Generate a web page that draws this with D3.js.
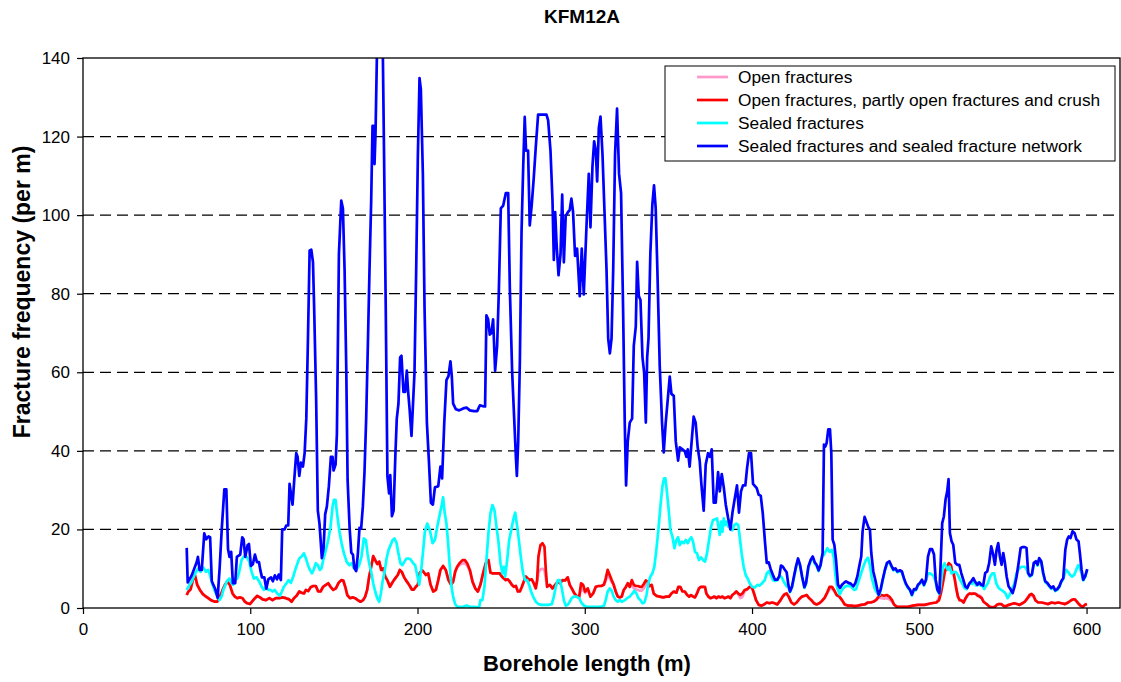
<!DOCTYPE html>
<html>
<head>
<meta charset="utf-8">
<script src="https://cdn.jsdelivr.net/npm/d3@7"></script>
<style>
  body { margin: 0; background: #fff; }
  svg { display: block; font-family: "Liberation Sans", Arial, sans-serif; }
</style>
</head>
<body>
<svg id="chart" width="1121" height="682"></svg>
<script>
// borehole length (m), fracture frequency (per m)
const sealedNetwork = [
  [62,15.3],[62.6,6.5],[65,8.3],[68,11.7],[68.7,13],[69.7,9.7],[71,9.7],[72.5,19],[73.7,17.5],[75,18.2],[76,18],[77,6.8],[79,4.9],[80.5,2.6],[81.7,10.2],[83,20.4],[84.5,30.2],[85.7,30.2],[86.7,15],[87.6,13],[88.6,14.3],[89.6,6.3],[91,6.3],[92,13],[94,13.6],[95.2,18],[96,17.5],[97,13],[98.4,16],[99.2,16.3],[100.4,10.7],[101.6,11.2],[102.8,13.6],[104,11.7],[105.2,11.7],[106,9.7],[107,7.8],[108.4,7.8],[109.6,4.9],[110.8,7.3],[112.4,7.8],[113.5,6.8],[114.7,8.3],[116,7.3],[117,8.5],[118.3,7.1],[119.1,20],[120.5,20],[121.5,21],[122.7,21],[123.5,31.6],[124.3,29.2],[125.3,26.3],[126.3,32.6],[127.5,39.4],[128.3,38.5],[129.3,33.6],[130.3,37],[131.5,36],[132.5,39.4],[133.5,48.2],[134.5,68.6],[135.5,91],[136.5,91.2],[137.5,88],[138.2,76.4],[139.4,53],[140.4,24.8],[141.4,21.4],[142.8,12.7],[143.8,15],[144.8,23.9],[145.8,25.8],[147,31],[148.2,38.5],[149.2,38.5],[149.8,35],[151,36.5],[151.8,44.3],[153,90],[154.4,103.7],[155.4,101.7],[156.4,86],[157.4,60.9],[158.2,32.6],[159.4,20.4],[160.4,14.1],[161.4,13.6],[162.2,10.2],[163.3,9.4],[164.3,13.6],[165.3,20.4],[166.3,20.2],[167.3,25.8],[168.3,34.6],[169.3,48.2],[170.3,66.7],[171.3,86.2],[172.3,103.7],[173.1,122.7],[173.7,122.7],[174.3,113],[174.9,121],[175.7,140],[176.5,152],[178.5,152],[179.3,140],[180,115],[181,76.4],[182,33.6],[183,29.2],[183.7,33.8],[184.7,23.4],[185.7,24.8],[186.8,39.4],[187.6,48.2],[188.6,52],[189.6,63.8],[190.4,64.2],[191.6,55],[192.6,55],[193.6,60.4],[194.4,55],[195.2,51],[196.4,43.8],[197.2,51],[198.2,60],[199.2,86],[200.2,115],[201.2,134.9],[202,132],[203.2,110.5],[204.2,76.4],[205.6,47.2],[206.8,37.5],[208,26.8],[209.2,26.3],[210.4,30.7],[212.4,31],[213.7,36],[214.7,33],[216,47.2],[217.3,58],[218.5,59],[219.7,62.8],[220.5,59],[221.3,52],[222.9,50.6],[224.9,50.3],[227.3,50.8],[229.3,51],[231.3,50.3],[233.7,50.1],[235.7,50.1],[237.3,51.6],[238.8,51.4],[240.4,51.3],[241.2,74.5],[242.2,73.5],[243.2,69.6],[244.2,70],[245.2,73.5],[246.4,60.4],[247.6,66.7],[248.6,80.3],[249.8,101.7],[251.2,102.4],[252.8,105.6],[254.2,105.6],[255.2,81.3],[256.6,59.9],[257.8,48.2],[258.8,38.5],[259.4,33.6],[260.2,42.4],[261.2,62.8],[262.2,95.9],[263.2,112.5],[264.1,125],[264.9,116.4],[266.1,116.4],[267.1,97.4],[268.3,102.7],[269.5,109.5],[270.7,117.3],[272.1,125.6],[274.1,125.6],[277.1,125.6],[278.1,124.1],[279.5,116.4],[280.7,103.7],[281.5,88.6],[282.3,100.8],[283.1,93],[284.3,84.7],[285.5,90],[286.5,105.2],[287.5,88],[288.6,99.8],[290,100.8],[291,101.3],[292,104.2],[293,100.8],[294.2,89.6],[295.4,91.5],[297,79.4],[298.2,91.5],[299.4,79.8],[301,96.9],[302.4,110.5],[303.4,96.9],[304.6,112.5],[305.6,118.8],[306.6,116.4],[307.4,108.6],[308.4,122.2],[309.4,125.1],[310.6,115.4],[311.8,100.8],[313,86.2],[314,68.6],[315,64.8],[316,68.6],[317,86.2],[318.1,115.4],[319.3,127.1],[320.5,110.5],[321.7,105.6],[322.9,76.4],[323.9,47.2],[324.7,31.2],[325.7,42.4],[326.9,47.2],[328.3,48.2],[329.3,66.7],[330.5,71.6],[331.3,88.1],[332.3,79.4],[333.3,78.4],[334.5,63.8],[335.5,59.9],[336.5,47.2],[337.3,63.8],[338.1,68.6],[339.2,90.1],[340.4,102.7],[341.4,107.6],[342.4,101.8],[343.4,86.2],[344.8,61.8],[346.2,47.2],[347.2,39.6],[348.4,47.2],[349.8,54],[350.8,58.9],[351.8,54.5],[353.2,54],[354.4,42.4],[355.8,37.5],[356.8,40.9],[358.4,40.4],[359.8,39.9],[360.8,38.5],[361.6,40.4],[362.7,36],[363.9,42.4],[365.1,48.7],[366.3,47.2],[367.5,40.9],[368.7,37.5],[369.7,31.6],[371.1,24.8],[372.3,36.5],[373.7,39.4],[374.7,38.5],[375.9,40.4],[377.1,26.8],[378.3,26.8],[379.7,34.6],[380.7,29.7],[381.9,34.1],[383.1,30.7],[384.3,26.3],[385.7,22.9],[387.1,20],[388.3,24.3],[389.6,27.7],[391,31.2],[392.2,24.3],[393.4,29.7],[394.6,31.2],[396,31.2],[397,35.5],[398.2,39.4],[399.4,39.4],[400.6,31.6],[402.8,30.5],[404,28.8],[405.2,28.6],[406.4,24.2],[407.8,16.5],[408.8,11.5],[410,11.6],[411.2,9.8],[412.4,8.5],[413.7,7.2],[415.1,7.2],[416.3,8.1],[417.3,10.8],[418.3,10.6],[419.5,9.8],[420.7,9.1],[421.7,5.9],[422.7,4.2],[423.9,5.5],[425.1,8.1],[426.3,10.6],[427.5,12.6],[428.7,11],[429.9,8.1],[431.3,5.3],[432.3,6.4],[433.7,10.6],[435.1,12.3],[436.3,13.1],[437.5,11.6],[438.6,11],[439.8,9.6],[441,11],[442.2,14],[443,41.6],[443.8,41.1],[444.6,42],[445.6,45.5],[446.6,45.5],[447.4,39.4],[448.2,17.4],[449.2,16.1],[450.2,12.3],[451.4,5.9],[452.6,5.1],[453.8,5.9],[455,6.4],[456.2,6.8],[457.6,6.4],[459,6.2],[460.6,5.5],[461.8,6.4],[463,8.1],[464.1,10.6],[465.3,13.1],[466.1,19.5],[467.3,23.2],[468.5,21.8],[469.7,20.4],[470.5,19.9],[471.3,14],[472.5,9.3],[473.7,7.2],[474.9,4.7],[475.7,3.4],[476.9,4.7],[478.1,7.2],[479.5,9.8],[480.7,11.5],[482.1,11.9],[483.5,10.6],[484.5,9.8],[485.7,10.1],[486.9,9.3],[488.4,9.6],[489.6,9.3],[490.8,7.6],[492,6.2],[493.2,5.3],[494.4,4.7],[495.6,3.4],[496.8,4.8],[498,4.7],[499.2,5.9],[500.4,6.4],[501.6,7.2],[502.8,5.9],[504,7.2],[505.2,13.1],[506.4,15],[507.6,15],[508.8,13.6],[509.8,7.2],[510.8,4.7],[512,3.8],[512.7,10.6],[513.7,21.6],[514.7,23.3],[515.7,27.6],[516.7,29.7],[517.5,32.8],[518.3,19.1],[519.3,17],[520.3,16.1],[521.5,11.5],[522.7,11],[523.9,11],[525.1,8.9],[526.3,7.2],[527.5,5.5],[528.7,5.1],[529.9,6.2],[531.1,6.8],[532.3,7.6],[533.5,6.6],[534.7,5.9],[535.9,6.5],[537.1,5.9],[538.2,5.7],[539.4,8.9],[540.6,9.3],[541.8,11.5],[543,15.7],[544.2,13.6],[545.2,11],[546.2,14.8],[547.2,16.5],[548.2,13.1],[549.2,11],[550.2,14],[551.2,11.5],[552.2,8.1],[553.4,5.5],[554.6,4.7],[555.8,3.8],[557,5.5],[558.2,8.1],[559.4,11.5],[560.6,15.3],[561.8,15.5],[563.1,15.5],[564.1,15.3],[565.1,8.9],[566.1,8.2],[567.3,8.5],[568.5,11.5],[569.7,11.9],[570.7,11],[571.7,12.7],[572.9,11.9],[574.1,8.9],[575.3,6.8],[576.5,6.4],[577.7,5.7],[578.9,5.1],[580.1,5.5],[581.3,4.5],[582.5,4.8],[583.7,5.5],[584.9,6.8],[586.1,7.6],[587.3,14.8],[588.4,17.4],[589.4,18.2],[590.4,17.8],[591.6,19.5],[592.8,19.1],[594,17.4],[595.2,17],[596,14],[597,9.8],[598,7.2],[599.2,8.1],[600.4,9.9]
];

const sealedFractures = [
  [62,4.6],[63,5.4],[65,6.7],[67,8.8],[69,10.1],[70.3,9.2],[71.9,10.3],[73.5,9.2],[74.9,9.7],[75.9,8.4],[77.5,5.9],[78.9,4.2],[80.3,3.1],[81.5,2],[82.9,2.9],[83.9,4.6],[85.9,6.7],[87.5,7.5],[88.8,6.3],[89.8,5.9],[90.8,7.5],[92.2,7.5],[93.4,9.2],[94.8,12.2],[96.2,13.1],[97.8,13.1],[99.4,11.8],[100.8,9.2],[102.2,7.5],[103.8,7.8],[105.4,6.7],[106.8,5.4],[108.2,4.6],[109.4,5.4],[110.8,4.6],[112.2,4.6],[113.3,4.2],[114.7,4.6],[116.1,3.7],[117.7,3.1],[118.9,4.2],[120.1,5.4],[121.7,6.3],[122.9,7.1],[124.3,6.4],[125.7,8],[126.9,9.7],[128.1,11.2],[129.3,12.6],[130.7,13.1],[132.1,13.9],[133.3,12.6],[134.5,10.9],[135.7,9.7],[136.9,8.8],[138,9.8],[139.2,11.4],[140.4,10.9],[141.6,9.7],[142.6,10.1],[143.6,12.2],[145.2,14.8],[146.6,17.3],[148,20.7],[149.2,25.8],[150,27.5],[151,27.5],[152,23.7],[153.2,19.8],[154.6,16.5],[156,13.9],[157.6,11.8],[159.2,10.9],[160.6,11.4],[162,10.1],[163.5,9.7],[165.1,10.9],[166.5,13.1],[167.9,17.7],[169.1,17.3],[170.1,13.9],[171.1,11.4],[172.5,8.8],[173.5,6.3],[174.7,4.2],[175.9,2.5],[177.1,1.6],[178.1,3.7],[179.1,6.7],[180.3,9.2],[181.5,12.6],[182.7,14.8],[183.9,16],[185.1,17.3],[186.3,17.7],[187.5,16.5],[188.6,13.9],[189.8,11.4],[191,10.9],[192.2,11.8],[193.4,12.6],[194.6,12.6],[195.8,12.4],[197.4,11.4],[198.6,10.9],[199.8,8.4],[201,5.9],[202.4,10.5],[203.2,13.9],[204.4,19.4],[205.8,21.5],[207.4,19.8],[209,16.5],[210.4,17.3],[211.8,20.7],[213,23.2],[214.3,25.8],[215.3,28.2],[216.3,24.1],[217.3,21.5],[218.3,16.5],[219.3,10.5],[220.3,5.4],[221.3,2.9],[222.5,1],[223.7,0.3],[225.3,0.3],[227.3,0.3],[229.3,0.6],[231.3,0.3],[233.3,0.3],[235.3,0.2],[236.9,0.3],[237.6,2],[238.8,2],[240,5.4],[241.2,12.2],[242.4,19],[243.6,24.1],[244.8,26.2],[246,24.9],[247.2,20.7],[248.4,16.9],[249.6,11.4],[250.8,8.8],[251.6,10.5],[252.4,8],[253.6,12.2],[254.8,17.3],[256,19.8],[257.2,22.4],[258.4,24.3],[259.6,20.7],[260.8,16.5],[262,12.2],[263.1,8.8],[264.3,7.1],[265.5,7.1],[266.7,5.9],[267.9,4.2],[269.1,2.9],[270.7,1.6],[272.3,1],[274.3,0.8],[276.3,0.8],[278.3,0.8],[280.3,1],[281.5,2.9],[282.7,5.4],[283.9,7.1],[285.1,7.1],[286.3,5],[287.5,2],[288.6,0.6],[289.8,0.8],[291,1.6],[292.2,2.5],[293.4,2.9],[295,2.9],[296.6,2.5],[298.2,1.2],[299.8,0.5],[301.4,0.3],[303.4,0.3],[305.4,0.3],[307.4,0.3],[309.4,0.3],[311.4,0.5],[312.5,2],[313.7,4.2],[314.9,5],[316.1,4.4],[317.3,2.9],[318.5,2],[319.7,1.6],[320.9,2],[322.1,1.6],[323.7,1.9],[325.3,2.5],[326.9,2.9],[328.5,3.7],[329.7,4.4],[330.9,3.7],[332.1,2.5],[333.3,2],[334.5,1.2],[335.7,1.4],[336.9,3.3],[338,6.3],[339.2,8],[340.4,8.8],[341.6,10.5],[342.8,14.8],[344,19.8],[345.2,25.8],[346.4,30.9],[347.4,33],[348.2,33],[348.8,30.9],[350,25.8],[351.2,19.8],[352.4,18.2],[353.6,15.2],[354.8,17.3],[355.8,18],[356.8,16],[358,16.9],[359.2,16.5],[360.4,17.3],[361.6,16.5],[362.7,17.5],[363.7,18],[364.7,16.9],[365.9,14.3],[367.1,13.9],[368.3,12.2],[369.5,12.9],[370.7,12.2],[371.9,11.8],[373.1,13.9],[374.3,17.3],[375.5,20.7],[376.7,22.4],[377.9,22.6],[379.1,22.8],[379.9,20.7],[380.7,18.6],[381.5,22],[382.3,19.4],[383.1,22.8],[383.9,21.1],[384.7,22],[385.9,20.7],[387.1,20.3],[388.2,19.8],[389.4,21.1],[390.6,21.5],[391.8,21.1],[392.6,18.2],[393.8,13.9],[395,10.5],[396.2,8.4],[397.4,7.5],[398.6,6.3],[400,5.4],[401.6,5.2],[403.2,5.9],[404.6,5.7],[406,6.3],[407.6,7.1],[408.8,8.8],[410,9.4],[411.2,8.4],[412.5,7.1],[413.9,6.9],[415.1,7.1],[416.3,8],[417.5,8],[419,6.7],[420.7,5.5],[421.7,5.5],[422.7,4],[423.9,5.2],[425.1,7.8],[426.3,10.3],[427.5,12.3],[428.7,10.8],[429.9,7.9],[431.3,5.1],[432.3,6.2],[433.7,10.3],[435.1,12],[436.3,12.8],[437.5,11.3],[438.6,10.7],[439.8,9.4],[441,10.8],[441.4,12.6],[443.4,13.9],[445,15.2],[446.4,14.3],[447.8,14.8],[449,12.6],[449.8,8.4],[451,5],[452.4,3.5],[453.8,4.6],[455.4,5.4],[457.4,5.7],[459.4,5.4],[461,4.6],[462.2,4.8],[463.3,6.3],[464.9,8.4],[466.5,10.5],[468.1,12.2],[469.3,12.8],[470.5,10.9],[471.7,7.5],[473.3,5],[474.9,3.7],[476.1,3.3],[476.9,4.5],[478.1,7],[479.5,9.6],[480.7,11.3],[482.1,11.7],[483.5,10.4],[484.5,9.6],[485.7,9.9],[486.9,9.1],[488.4,9.4],[489.6,9.1],[490.8,7.4],[492,6],[493.2,5.1],[494.4,4.5],[495.6,3.2],[496.8,4.6],[498,4.5],[499.2,5.7],[500.4,6.2],[501.6,7],[502.8,5.7],[504,7],[505.2,8.8],[506.4,8.8],[507.6,8.5],[508.8,8],[509.8,6.5],[510.8,4.5],[512,3.6],[512.9,6],[514.1,10.5],[515.1,11.4],[516.1,10.5],[517.1,9.7],[518.1,10.5],[519.3,8.8],[520.5,9.2],[521.7,9.2],[523.1,8.4],[524.5,7.1],[525.7,6.2],[526.9,5.2],[528.1,4.8],[529.3,5.7],[530.5,6.5],[531.7,6.1],[532.9,6.9],[534.1,5.7],[535.3,6.5],[536.5,5.7],[537.6,5.7],[538.8,4.8],[539.6,5.4],[541,6.3],[542.4,8],[543.6,8.8],[544.8,8.8],[546,6.3],[547.6,5],[549,4.6],[550.4,4.2],[551.6,3.7],[552.8,2.5],[554,3.3],[555.2,4.6],[556.8,6.1],[558,8.6],[559.2,9.8],[560.4,10.3],[561.6,10.5],[562.9,10.5],[563.9,10.1],[565.1,8.7],[566.1,8],[567.3,8.3],[568.5,11.3],[569.7,11.7],[570.7,10.8],[571.7,12.5],[572.9,11.7],[574.1,8.7],[575.3,6.6],[576.5,6.2],[577.7,5.5],[578.9,4.9],[580.1,5.3],[581.3,4.3],[582.5,4.6],[583.7,5.3],[584.9,6.6],[586.1,7.4],[587.8,9.7],[589,9.2],[590.2,8.4],[591.4,8],[592.6,8.4],[593.8,9.7],[595,10.9],[595.8,10.5],[597,8.8],[598,7],[599.2,7.9],[600.4,9.7]
];

const openPartlyCrush = [
  [62,3.3],[63,4.2],[64.3,4.7],[65.9,7.5],[66.9,8.4],[68.3,5.9],[69.9,4.6],[71.5,3.6],[72.9,3.1],[74.9,2.5],[76.9,1.9],[78.9,1.6],[80.3,1.6],[81.9,2.9],[83.5,4.6],[84.9,5.9],[86.3,6.7],[87.8,5.9],[89.4,3.7],[90.8,2.9],[92.2,2.5],[93.8,2.7],[95.4,2.5],[96.8,1.6],[98.2,1.2],[99.8,1],[101.4,1.8],[102.8,2.5],[104.2,3.1],[105.8,2.7],[107.4,2.2],[109.4,2],[111.4,2.5],[113.3,2],[115.3,2.5],[117.3,2.5],[119.3,2.7],[121.3,2.5],[123.3,2.2],[124.7,1.6],[126.1,2.5],[127.7,3.1],[129.3,4.2],[130.7,3.9],[132.1,3.7],[133.3,4.6],[134.7,4.3],[136.1,5.3],[137.6,5.6],[139.2,5.6],[140.6,4.2],[142,4.2],[143.6,5.4],[145.2,5.9],[146.6,6.3],[148,5.4],[149.6,4.6],[151.2,5],[152.8,6.4],[154.4,7.1],[155.6,7],[156.8,5.4],[158,3.3],[159.6,2.5],[161.2,2.7],[162.7,2.5],[164.3,2],[165.9,1.6],[167.5,2],[168.7,2.9],[169.9,4.6],[171.1,8],[172.3,10.5],[173.5,13.2],[174.7,12.2],[175.9,11.2],[177.1,11.8],[178.3,9.7],[179.5,10.1],[180.7,8],[181.9,7.1],[183.5,5.4],[184.7,6.3],[185.9,7.1],[187.1,7.8],[188.2,8.4],[189.4,9.7],[190.6,9.2],[191.8,8],[193,7.1],[194.2,6.4],[195.4,5.6],[196.6,4.7],[197.8,4.7],[199,5.4],[200.2,5.9],[201.4,9],[203,9.5],[205,8.4],[206.4,8.8],[207.8,5.9],[209.4,4.2],[211,4.6],[212.4,7.1],[213.7,9.7],[215.3,10.7],[216.9,9.7],[218.5,7.1],[220.1,5.9],[221.3,6.7],[222.5,9.2],[223.7,10.5],[225.3,11.5],[226.9,12.2],[228.3,12.2],[229.7,11.4],[231.3,9.7],[232.9,6.7],[234.5,5],[236.1,4.2],[237.6,5.9],[239.2,8.8],[240.8,11.4],[242.4,12.2],[243.6,9],[245.2,8.8],[247.2,8.8],[249.2,8.8],[250.4,8],[251.6,7.5],[252.8,7.1],[254,7.3],[255.2,6.7],[256.4,5.9],[257.6,5.4],[258.8,5.6],[260,4.2],[261.2,4.2],[262.4,5.4],[263.5,6.7],[264.7,8],[265.9,7.5],[267.1,7.1],[268.3,7.3],[269.5,6.3],[270.7,5],[271.5,7.1],[272.3,13.1],[273.5,16],[274.7,16.5],[275.9,15.6],[276.7,9.7],[277.5,5.4],[279.1,5.9],[280.7,5],[282.3,5.9],[283.9,6.7],[285.1,6.3],[286.7,7.1],[288.2,7],[289.8,7.8],[291,5.9],[292.2,5],[293.8,3.7],[295.4,2.9],[296.6,2.7],[297.8,6.3],[299,5.9],[300.2,4.2],[301.8,5],[303.4,2.9],[305,3.7],[306.6,5.4],[308.2,5.6],[309.8,5.6],[311.4,5.9],[312.5,7.5],[313.7,9.7],[314.9,8.4],[316.1,7.1],[317.3,5.9],[318.5,4.2],[319.7,2.9],[320.9,2.7],[322.1,2.9],[323.3,4.6],[324.5,5.3],[325.7,6.3],[326.9,5.4],[328.1,7.1],[329.3,5.9],[330.5,5.6],[331.7,5.6],[332.9,5.4],[334.1,5.4],[335.3,6.1],[336.5,7],[337.6,6.7],[338.8,5.6],[340,5.9],[341.2,3.7],[342.8,3.1],[344.8,2.9],[346.8,2.7],[348.8,2.9],[350.4,2.9],[351.8,3.7],[353.2,4.2],[354.8,3.9],[356,5.4],[357.2,5.3],[358.4,4.2],[359.8,4.2],[361.2,3.3],[362.4,2.9],[363.5,3.3],[364.7,2.9],[365.9,2.7],[367.1,3.7],[368.3,5],[369.5,5.4],[370.7,5.4],[371.9,5.3],[372.7,3.7],[373.9,2.9],[375.1,2.5],[376.3,2.7],[377.5,2.9],[378.7,2.5],[379.9,2.9],[381.1,2.7],[382.3,2.9],[383.5,2.5],[384.7,2.7],[385.9,2.9],[387.1,2.5],[388.2,3.3],[389.4,3.7],[390.6,4.2],[391.8,3.7],[393,3.3],[394.2,3.7],[395.6,4.6],[397.2,4.8],[398.6,5.4],[400,5.2],[401.2,3.7],[402.4,2],[404,0.8],[405.6,0.6],[407.2,0.9],[408.8,1.4],[410.4,1.2],[412,1.4],[413.5,1.2],[415.1,0.9],[416.7,1.8],[418.3,2.9],[419.5,3.5],[420.7,3.7],[421.9,2.9],[423.5,1.4],[425.1,0.9],[426.7,1.4],[428.3,2.3],[429.9,2.9],[431.5,3.1],[432.7,3.3],[433.9,2.6],[435.5,2],[437.1,1.2],[438.6,0.9],[440.2,1.2],[441.8,1.8],[443.4,2.6],[445,4],[446.4,5.4],[447.8,5.4],[449,4.6],[450.6,3.3],[452.2,2.9],[453.8,2],[455.4,0.9],[457.4,0.6],[459.4,0.6],[461.4,0.5],[463.3,0.6],[465.3,0.8],[467.3,0.9],[469.3,1.4],[470.9,1.4],[472.5,1.6],[474.1,2],[475.7,2.9],[477.3,3.3],[478.9,3.1],[480.5,3.3],[482.1,2.9],[483.7,2],[484.9,0.9],[486.5,0.3],[489.2,0.3],[493.2,0.3],[496.2,0.6],[499.2,0.8],[503.2,0.8],[507.2,1.2],[510.2,1.4],[511.8,2],[512.9,3.7],[514.1,6.3],[515.3,9.2],[516.5,10.5],[517.7,11.4],[518.9,10.9],[519.7,9.2],[520.5,8.8],[521.3,7.1],[522.1,5],[523.1,2.9],[524.1,2],[525.3,1.9],[526.5,1.4],[527.7,2.5],[528.9,3.3],[530.1,3.7],[531.3,3.6],[532.5,3.7],[533.7,3.6],[534.9,3.1],[536.1,2.9],[537.3,2.5],[538.4,1.6],[539.6,1.2],[540.8,0.8],[542,0.3],[543.6,0.2],[545.2,0.3],[546.4,0.8],[547.6,1],[549,1],[550.4,0.5],[552,0.5],[553.6,0.8],[555.2,1],[556.8,1.2],[558.4,1],[560,0.8],[561.6,1.2],[563.1,1.6],[564.7,2.5],[565.9,3.3],[567.1,3.6],[568.3,3.1],[569.5,1.9],[571.1,1.4],[573.1,1.4],[575.1,1.2],[577.1,1],[579.1,1.4],[581.1,1.2],[583.1,1.4],[585.1,1.2],[587.1,1],[589,1.4],[590.6,1.9],[591.8,2.2],[593,2.2],[594.2,1.6],[595.4,1],[596.6,0.5],[597.8,0.3],[599,0.8],[600.2,1]
];

const openFractures = [
  [62,3.3],[63,4.2],[64.3,4.7],[65.9,7.5],[66.9,8.4],[68.3,5.9],[69.9,4.6],[71.5,3.6],[72.9,3.1],[74.9,2.5],[76.9,1.9],[78.9,1.6],[80.3,1.6],[81.9,2.9],[83.5,4.6],[84.9,5.9],[86.3,6.7],[87.8,5.9],[89.4,3.7],[90.8,2.9],[92.2,2.5],[93.8,2.7],[95.4,2.5],[96.8,1.6],[98.2,1.2],[99.8,1],[101.4,1.8],[102.8,2.5],[104.2,3.1],[105.8,2.7],[107.4,2.2],[109.4,2],[111.4,2.5],[113.3,2],[115.3,2.5],[117.3,2.5],[119.3,2.7],[121.3,2.5],[123.3,2.2],[124.7,1.6],[126.1,2.5],[127.7,3.1],[129.3,4.2],[130.7,3.9],[132.1,3.7],[133.3,4.6],[134.7,4.3],[136.1,5.3],[137.6,5.6],[139.2,5.6],[140.6,4.2],[142,4.2],[143.6,5.4],[145.2,5.9],[146.6,6.3],[148,5.4],[149.6,4.6],[151.2,5],[152.8,6.4],[154.4,7.1],[155.6,7],[156.8,5.4],[158,3.3],[159.6,2.5],[161.2,2.7],[162.7,2.5],[164.3,2],[165.9,1.6],[167.5,2],[168.7,2.9],[169.9,4.6],[171.1,8],[172.3,10.5],[173.5,13.2],[174.7,12.2],[175.9,11.2],[177.1,11.8],[178.3,9.7],[179.5,10.1],[180.7,8],[181.9,7.1],[183.5,5.4],[184.7,6.3],[185.9,7.1],[187.1,7.8],[188.2,8.4],[189.4,9.7],[190.6,9.2],[191.8,8],[193,7.1],[194.2,6.4],[195.4,5.6],[196.6,4.7],[197.8,4.7],[199,5.4],[200.2,5.9],[201.4,9],[203,9.5],[205,8.4],[206.4,8.8],[207.8,5.9],[209.4,4.2],[211,4.6],[212.4,7.1],[213.7,9.7],[215.3,10.7],[216.9,9.7],[218.5,7.1],[220.1,5.9],[221.3,6.7],[222.5,9.2],[223.7,10.3],[225.3,11],[226.9,11.3],[228.3,11.4],[229.7,10.8],[231.3,9.5],[232.9,6.7],[234.5,5],[236.1,4.2],[237.6,5.9],[239.2,8.8],[240.8,11.4],[242.4,12.2],[243.6,9],[245.2,8.8],[247.2,8.8],[249.2,8.8],[250.4,8],[251.6,7.5],[252.8,7.1],[254,7.3],[255.2,6.7],[256.4,5.9],[257.6,5.4],[258.8,5.6],[260,4.2],[261.2,4.2],[262.4,5.4],[263.5,6.7],[264.7,8],[265.9,7.5],[267.1,7.1],[268.3,7.3],[269.5,6.3],[270.7,5],[271.5,6.6],[272.3,9],[273.5,9.8],[274.7,10],[275.9,9.6],[276.7,7.5],[277.5,5.4],[279.1,5.9],[280.7,5],[282.3,5.9],[283.9,6.7],[285.1,6.3],[286.7,7.1],[288.2,7],[289.8,7.8],[291,5.9],[292.2,5],[293.8,3.7],[295.4,2.9],[296.6,2.7],[297.8,4.8],[299,4.6],[300.2,3.8],[301.8,4.4],[303.4,2.9],[305,3.7],[306.6,5.4],[308.2,5.6],[309.8,5.6],[311.4,5.9],[312.5,6.8],[313.7,8.6],[314.9,7.6],[316.1,6.6],[317.3,5.9],[318.5,4.2],[319.7,2.9],[320.9,2.7],[322.1,2.9],[323.3,4.6],[324.5,5.3],[325.7,6.3],[326.9,5.4],[328.1,6],[329.3,5],[330.5,4.8],[331.7,4.6],[332.9,4.4],[334.1,4.4],[335.3,5],[336.5,6],[337.6,6.2],[338.8,5.6],[340,5.9],[341.2,3.7],[342.8,3.1],[344.8,2.9],[346.8,2.7],[348.8,2.9],[350.4,2.9],[351.8,3.7],[353.2,4.2],[354.8,3.9],[356,5.4],[357.2,5.3],[358.4,4.2],[359.8,4.2],[361.2,3.3],[362.4,2.9],[363.5,3.3],[364.7,2.9],[365.9,2.7],[367.1,3.7],[368.3,5],[369.5,5.4],[370.7,5.4],[371.9,5.3],[372.7,3.7],[373.9,2.9],[375.1,2.5],[376.3,2.7],[377.5,2.9],[378.7,2.5],[379.9,2.9],[381.1,2.7],[382.3,2.9],[383.5,2.5],[384.7,2.7],[385.9,2.9],[387.1,2.5],[388.2,3.3],[389.4,3.7],[390.6,4.2],[391.8,3.4],[393,2.5],[394.2,2.8],[395.6,4.2],[397.2,4.8],[398.6,5.4],[400,5.2],[401.2,3.7],[402.4,2],[404,0.8],[405.6,0.6],[407.2,0.9],[408.8,1.4],[410.4,1.2],[412,1.4],[413.5,1.2],[415.1,0.9],[416.7,1.8],[418.3,2.9],[419.5,3.5],[420.7,3.7],[421.9,2.9],[423.5,1.4],[425.1,0.9],[426.7,1.4],[428.3,2.3],[429.9,2.9],[431.5,3.1],[432.7,3.3],[433.9,2.6],[435.5,2],[437.1,1.2],[438.6,0.9],[440.2,1.2],[441.8,1.8],[443.4,2.6],[445,3.8],[446.4,4.8],[447.8,4.9],[449,4.4],[450.6,3.3],[452.2,2.9],[453.8,2],[455.4,0.9],[457.4,0.6],[459.4,0.6],[461.4,0.5],[463.3,0.6],[465.3,0.8],[467.3,0.9],[469.3,1.4],[470.9,1.4],[472.5,1.6],[474.1,2],[475.7,2.6],[477.3,2.5],[478.9,2.4],[480.5,2.5],[482.1,2.2],[483.7,1.6],[484.9,0.9],[486.5,0.3],[489.2,0.3],[493.2,0.3],[496.2,0.6],[499.2,0.8],[503.2,0.8],[507.2,1.2],[510.2,1.4],[511.8,2.6],[512.9,5],[514.1,8],[515.3,9.6],[516.5,10.5],[517.7,11.4],[518.9,10.9],[519.7,9.2],[520.5,8.8],[521.3,7.1],[522.1,5],[523.1,2.9],[524.1,2],[525.3,1.9],[526.5,1.4],[527.7,2.5],[528.9,3.3],[530.1,3.7],[531.3,3.6],[532.5,3.7],[533.7,3.6],[534.9,3.4],[536.1,3.2],[537.3,2.7],[538.4,1.6],[539.6,1.2],[540.8,0.8],[542,0.3],[543.6,0.2],[545.2,0.3],[546.4,0.8],[547.6,1],[549,1],[550.4,0.5],[552,0.5],[553.6,0.8],[555.2,1],[556.8,1.2],[558.4,1],[560,0.8],[561.6,1.2],[563.1,1.6],[564.7,2.5],[565.9,2.9],[567.1,3.2],[568.3,2.9],[569.5,1.9],[571.1,1.4],[573.1,1.4],[575.1,1.2],[577.1,1],[579.1,1.4],[581.1,1.2],[583.1,1.4],[585.1,1.2],[587.1,1],[589,1.4],[590.6,1.9],[591.8,2.2],[593,2.2],[594.2,1.6],[595.4,1],[596.6,0.5],[597.8,0.3],[599,0.8],[600.2,1]
];

const seriesNames = [
  "Open fractures",
  "Open fractures, partly open fractures and crush",
  "Sealed fractures",
  "Sealed fractures and sealed fracture network"
];
const xTicks = [0, 100, 200, 300, 400, 500, 600];
const yTicks = [0, 20, 40, 60, 80, 100, 120, 140];
const gridValues = [20, 40, 60, 80, 100, 120];

const seriesColors = ["#ff99cc", "#ff0000", "#00ffff", "#0000ff"];
const font = '"Liberation Sans", Arial, sans-serif';

const svg = d3.select("#chart");
const plotLeft = 83, plotRight = 1120, plotTop = 58, plotBottom = 608;

const x = d3.scaleLinear().domain([0, 620]).range([plotLeft, plotRight]);
const y = d3.scaleLinear().domain([0, 140]).range([plotBottom, plotTop]);

svg.append("rect").attr("width", 1121).attr("height", 682).attr("fill", "#fff");

svg.append("defs").append("clipPath").attr("id", "plotClip")
  .append("rect").attr("x", plotLeft).attr("y", plotTop)
  .attr("width", plotRight - plotLeft).attr("height", plotBottom - plotTop);

// dashed gridlines
svg.append("g").selectAll("line").data(gridValues).join("line")
  .attr("x1", plotLeft).attr("x2", plotRight)
  .attr("y1", d => y(d)).attr("y2", d => y(d))
  .attr("stroke", "#000").attr("stroke-width", 1.2)
  .attr("stroke-dasharray", "11,6");

// axes
const yAxis = svg.append("g").attr("transform", `translate(${plotLeft},0)`)
  .call(d3.axisLeft(y).tickValues(yTicks).tickSize(6).tickPadding(7).tickFormat(d3.format("d")));
const xAxis = svg.append("g").attr("transform", `translate(0,${plotBottom})`)
  .call(d3.axisBottom(x).tickValues(xTicks).tickSize(6).tickPadding(9).tickFormat(d3.format("d")));
[xAxis, yAxis].forEach(g => {
  g.select(".domain").remove();
  g.selectAll(".tick line").attr("stroke", "#000").attr("stroke-width", 1.2);
  g.selectAll(".tick text").attr("fill", "#000").style("font-family", font).style("font-size", "17px");
});

// data lines
const line = d3.line().x(d => x(d[0])).y(d => y(d[1]));
const plot = svg.append("g").attr("clip-path", "url(#plotClip)");
[openFractures, openPartlyCrush, sealedFractures, sealedNetwork].forEach((data, i) => {
  plot.append("path").datum(data)
    .attr("fill", "none").attr("stroke", seriesColors[i])
    .attr("stroke-width", 2.7).attr("stroke-linejoin", "round")
    .attr("d", line);
});

// plot frame
svg.append("rect").attr("x", plotLeft).attr("y", plotTop)
  .attr("width", plotRight - plotLeft).attr("height", plotBottom - plotTop)
  .attr("fill", "none").attr("stroke", "#000").attr("stroke-width", 1.3);

// titles
svg.append("text").attr("x", 582).attr("y", 23).attr("text-anchor", "middle")
  .style("font-family", font).style("font-size", "19px").style("font-weight", "bold")
  .text("KFM12A");
svg.append("text").attr("x", 587).attr("y", 671).attr("text-anchor", "middle")
  .style("font-family", font).style("font-size", "22px").style("font-weight", "bold")
  .text("Borehole length (m)");
svg.append("text").attr("transform", "translate(30,292) rotate(-90)").attr("text-anchor", "middle")
  .style("font-family", font).style("font-size", "23px").style("font-weight", "bold")
  .text("Fracture frequency (per m)");

// legend
const legend = svg.append("g");
legend.append("rect").attr("x", 665).attr("y", 66).attr("width", 450).attr("height", 95)
  .attr("fill", "#fff").attr("stroke", "#000").attr("stroke-width", 1);
const rows = legend.selectAll("g.row").data(seriesNames).join("g")
  .attr("class", "row")
  .attr("transform", (d, i) => `translate(0,${77 + i * 23})`);
rows.append("line").attr("x1", 697).attr("x2", 728).attr("y1", 0).attr("y2", 0)
  .attr("stroke", (d, i) => seriesColors[i]).attr("stroke-width", 2.7);
rows.append("text").attr("x", 738).attr("y", 0).attr("dy", "0.36em")
  .style("font-family", font).style("font-size", "17.3px").attr("fill", "#000")
  .text(d => d);
</script>
</body>
</html>
